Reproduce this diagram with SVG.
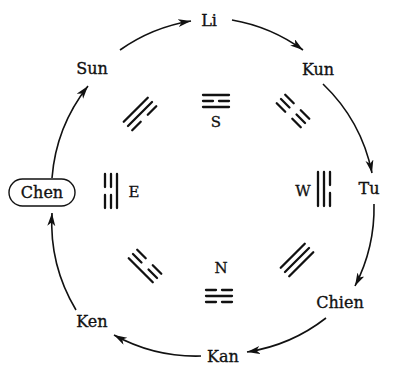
<svg xmlns="http://www.w3.org/2000/svg" width="396" height="368" viewBox="0 0 396 368">
<style>
.lbl{font-family:"DejaVu Serif","Liberation Serif",serif;font-size:16px;fill:#111;stroke:#111;stroke-width:0.35;text-anchor:middle}
.dir{font-family:"DejaVu Serif","Liberation Serif",serif;font-size:15px;fill:#111;stroke:#111;stroke-width:0.3;text-anchor:middle}
.arc{fill:none;stroke:#111;stroke-width:1.6}
.tg{fill:none;stroke:#111;stroke-width:2.3;stroke-linecap:round}
.box{fill:none;stroke:#111;stroke-width:1.4}
</style>
<defs>
<marker id="ah" markerUnits="userSpaceOnUse" markerWidth="16" markerHeight="10" refX="13" refY="4" orient="auto">
<path d="M0,0 L13,4 L0,8 L3.5,4 Z" fill="#111"/>
</marker>
</defs>
<g id="connectors">
<path class="arc" marker-end="url(#ah)" d="M120,50 A170,170 0 0 1 191,21"/>
<path class="arc" marker-end="url(#ah)" d="M232,20 A170,170 0 0 1 303,50"/>
<path class="arc" marker-end="url(#ah)" d="M323,84 A170,170 0 0 1 372,173"/>
<path class="arc" marker-end="url(#ah)" d="M374,204 A170,170 0 0 1 355,286"/>
<path class="arc" marker-end="url(#ah)" d="M326,318 A170,170 0 0 1 247,352"/>
<path class="arc" marker-end="url(#ah)" d="M201,356 A170,170 0 0 1 114,335"/>
<path class="arc" marker-end="url(#ah)" d="M76,310 A170,170 0 0 1 52,213"/>
<path class="arc" marker-end="url(#ah)" d="M52,178 A170,170 0 0 1 88,86"/>
</g>
<g id="li"><text class="lbl" x="209" y="26">Li</text></g>
<g id="kun"><text class="lbl" x="318" y="75">Kun</text></g>
<g id="tu"><text class="lbl" x="369" y="194">Tu</text></g>
<g id="chien"><text class="lbl" x="340" y="308">Chien</text></g>
<g id="kan"><text class="lbl" x="223" y="362">Kan</text></g>
<g id="ken"><text class="lbl" x="92" y="327">Ken</text></g>
<g id="chen"><rect class="box" x="9" y="179" width="66" height="27" rx="13.5"/><text class="lbl" x="42" y="198">Chen</text></g>
<g id="sun"><text class="lbl" x="92" y="74">Sun</text></g>
<g id="tri-s" transform="translate(216,101)"><path class="tg" d="M-13,6 H13 M-13,0 H-3 M3,0 H13 M-13,-6 H13"/></g>
<g id="lbl-s"><text class="dir" x="216" y="127">S</text></g>
<g id="tri-n" transform="translate(219,296) rotate(180)"><path class="tg" d="M-13,6 H-3 M3,6 H13 M-13,0 H13 M-13,-6 H-3 M3,-6 H13"/></g>
<g id="lbl-n"><text class="dir" x="221" y="273">N</text></g>
<g id="tri-e" transform="translate(111,191) rotate(-90)"><path class="tg" d="M-17,6 H17 M-17,0 H-4 M4,0 H17 M-17,-6 H-4 M4,-6 H17"/></g>
<g id="lbl-e"><text class="dir" x="134" y="197">E</text></g>
<g id="tri-w" transform="translate(324,189) rotate(90)"><path class="tg" d="M-17,6 H17 M-17,0 H17 M-17,-6 H-4 M4,-6 H17"/></g>
<g id="lbl-w"><text class="dir" x="303" y="196">W</text></g>
<g id="tri-se" transform="translate(140,114) rotate(-45)"><path class="tg" d="M-17,6 H-5 M5,6 H17 M-17,0 H17 M-17,-6 H17"/></g>
<g id="tri-sw" transform="translate(293,111) rotate(45)"><path class="tg" d="M-17,6 H-5 M5,6 H17 M-17,0 H-5 M5,0 H17 M-17,-6 H-5 M5,-6 H17"/></g>
<g id="tri-ne" transform="translate(145,266) rotate(-135)"><path class="tg" d="M-17,6 H-5 M5,6 H17 M-17,0 H-5 M5,0 H17 M-17,-6 H17"/></g>
<g id="tri-nw" transform="translate(297,260) rotate(135)"><path class="tg" d="M-17,6 H17 M-17,0 H17 M-17,-6 H17"/></g>
</svg>
